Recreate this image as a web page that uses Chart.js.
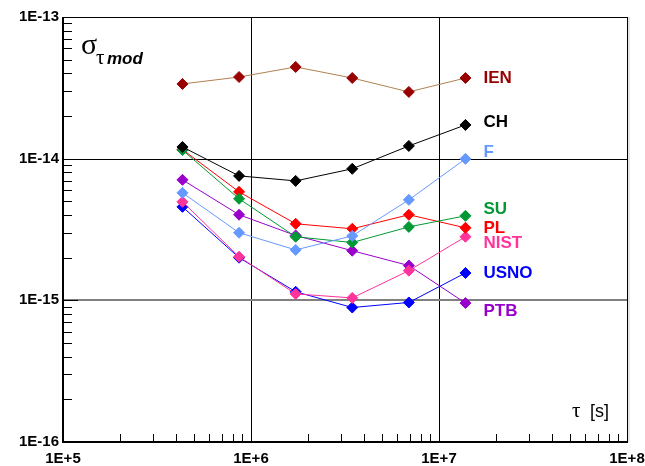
<!DOCTYPE html>
<html><head><meta charset="utf-8">
<script src="https://cdn.jsdelivr.net/npm/chart.js@4/dist/chart.umd.min.js"></script>
<style>html,body{margin:0;padding:0;background:#fff}#wrap{width:645px;height:466px}</style>
</head><body><div id="wrap"><canvas id="c" width="645" height="466"></canvas></div>
<script>
const tau = [432000, 864000, 1728000, 3456000, 6912000, 13824000];
const IEN  = [3.37e-14, 3.77e-14, 4.44e-14, 3.71e-14, 2.96e-14, 3.71e-14];
const CH   = [1.21e-14, 7.56e-15, 6.97e-15, 8.48e-15, 1.23e-14, 1.73e-14];
const F    = [5.74e-15, 3.00e-15, 2.27e-15, 2.85e-15, 5.12e-15, 9.97e-15];
const SU   = [1.15e-14, 5.21e-15, 2.81e-15, 2.56e-15, 3.30e-15, 3.95e-15];
const PL   = [1.16e-14, 5.83e-15, 3.47e-15, 3.20e-15, 4.02e-15, 3.25e-15];
const NIST = [4.96e-15, 2.03e-15, 1.11e-15, 1.04e-15, 1.62e-15, 2.81e-15];
const USNO = [4.57e-15, 2.00e-15, 1.15e-15, 8.90e-16, 9.66e-16, 1.56e-15];
const PTB  = [7.09e-15, 4.02e-15, 2.87e-15, 2.24e-15, 1.76e-15, 9.57e-16];
const xTickValues = [1e5, 1e6, 1e7, 1e8];
const xTickLabels = ['1E+5','1E+6','1E+7','1E+8'];
const yTickValues = [1e-16, 1e-15, 1e-14, 1e-13];
const yTickLabels = ['1E-16','1E-15','1E-14','1E-13'];

const series = [
  {name:'IEN', data:IEN, line:'#b08050', mark:'#990000', text:'#990000', dy:0},
  {name:'CH', data:CH, line:'#000000', mark:'#000000', text:'#000000', dy:-3},
  {name:'F', data:F, line:'#6699ff', mark:'#6699ff', text:'#6699ff', dy:-7},
  {name:'SU', data:SU, line:'#009933', mark:'#009933', text:'#009933', dy:-7},
  {name:'PL', data:PL, line:'#ff0000', mark:'#ff0000', text:'#ff0000', dy:0},
  {name:'NIST', data:NIST, line:'#ff3399', mark:'#ff3399', text:'#ff3399', dy:7},
  {name:'USNO', data:USNO, line:'#0000ff', mark:'#0000ff', text:'#0000ff', dy:0},
  {name:'PTB', data:PTB, line:'#9900cc', mark:'#9900cc', text:'#9900cc', dy:8}
];

const datasets = series.map(s => ({
  label: s.name,
  data: tau.map((t,i)=>({x:t,y:s.data[i]})),
  showLine: true,
  borderColor: s.line,
  borderWidth: 1,
  pointStyle: 'rectRot',
  pointRadius: 5.5,
  pointHoverRadius: 5.5,
  pointBackgroundColor: s.mark,
  pointBorderColor: s.mark,
  pointBorderWidth: 1,
  tension: 0
}));

const overlay = {
  id:'overlay',
  beforeDatasetsDraw(chart){
    const ctx=chart.ctx, xa=chart.scales.x, ya=chart.scales.y, a=chart.chartArea;
    ctx.save();
    [1e6,1e7].forEach(v=>{
      const px=Math.round(xa.getPixelForValue(v))+0.5;
      ctx.strokeStyle='#000'; ctx.lineWidth=1;
      ctx.beginPath(); ctx.moveTo(px,a.top); ctx.lineTo(px,a.bottom); ctx.stroke();
    });
    let py=Math.round(ya.getPixelForValue(1e-14))+0.5;
    ctx.strokeStyle='#000'; ctx.lineWidth=1;
    ctx.beginPath(); ctx.moveTo(a.left,py); ctx.lineTo(a.right,py); ctx.stroke();
    py=Math.round(ya.getPixelForValue(1e-15));
    ctx.strokeStyle='#808080'; ctx.lineWidth=2;
    ctx.beginPath(); ctx.moveTo(a.left,py); ctx.lineTo(a.right,py); ctx.stroke();
    ctx.strokeStyle='#000'; ctx.lineWidth=1;
    for(let e=-16;e<-13;e++){
      for(let m=1;m<10;m++){
        const v=m*Math.pow(10,e);
        const p=Math.round(ya.getPixelForValue(v))+0.5;
        const len = m===1?15:9;
        ctx.beginPath(); ctx.moveTo(a.left,p); ctx.lineTo(a.left+len,p); ctx.stroke();
      }
    }
    for(let e=5;e<8;e++){
      for(let m=1;m<10;m++){
        const v=m*Math.pow(10,e);
        const p=Math.round(xa.getPixelForValue(v))+0.5;
        const len = m===1?15:8;
        ctx.beginPath(); ctx.moveTo(p,a.bottom); ctx.lineTo(p,a.bottom-len); ctx.stroke();
      }
    }
    ctx.strokeStyle='#000'; ctx.lineWidth=1;
    ctx.strokeRect(a.left+0.5,a.top+0.5,a.right-a.left,a.bottom-a.top);
    ctx.lineWidth=2;
    ctx.beginPath(); ctx.moveTo(a.left,a.top); ctx.lineTo(a.left,a.bottom); ctx.lineTo(a.right,a.bottom); ctx.stroke();
    ctx.fillStyle='#e6e6e6'; ctx.fillRect(a.right+1,a.top,2,a.bottom-a.top);
    ctx.restore();
  },
  afterDatasetsDraw(chart){
    const ctx=chart.ctx, xa=chart.scales.x, ya=chart.scales.y, a=chart.chartArea;
    ctx.save();
    // axis tick labels
    ctx.fillStyle='#000';
    ctx.font='bold 15px "Liberation Sans", Arial, sans-serif';
    ctx.textAlign='center'; ctx.textBaseline='middle';
    xTickValues.forEach((v,i)=>{
      ctx.fillText(xTickLabels[i], xa.getPixelForValue(v), a.bottom+17);
    });
    ctx.textAlign='right';
    yTickValues.forEach((v,i)=>{
      ctx.fillText(yTickLabels[i], a.left-4, ya.getPixelForValue(v));
    });
    // series labels
    ctx.font='bold 17px "Liberation Sans", Arial, sans-serif';
    ctx.textBaseline='middle'; ctx.textAlign='left';
    series.forEach(s=>{
      const n=s.data.length-1;
      const px=xa.getPixelForValue(tau[n])+18;
      const py=ya.getPixelForValue(s.data[n])+s.dy;
      ctx.fillStyle=s.text;
      ctx.fillText(s.name,px,py);
    });
    ctx.fillStyle='#000';
    ctx.textBaseline='alphabetic';
    ctx.font='30px "Liberation Serif", "Times New Roman", serif';
    ctx.fillText('σ',81,54);
    ctx.font='21px "Liberation Serif", serif';
    ctx.fillText('τ',96,64);
    ctx.font='italic bold 17px "Liberation Sans", Arial, sans-serif';
    ctx.fillText('mod',107,64);
    ctx.font='21px "Liberation Serif", serif';
    ctx.fillText('τ',572,417);
    ctx.font='18px "Liberation Sans", Arial, sans-serif';
    ctx.fillText('[s]',590,417);
    ctx.restore();
  }
};

new Chart(document.getElementById('c'),{
  type:'scatter',
  data:{datasets},
  options:{
    responsive:false, animation:false, devicePixelRatio:1,
    layout:{padding:{left:63,right:18,top:17,bottom:24}},
    plugins:{legend:{display:false},tooltip:{enabled:false}},
    scales:{
      x:{type:'logarithmic',min:1e5,max:1e8,display:false},
      y:{type:'logarithmic',min:1e-16,max:1e-13,display:false}
    }
  },
  plugins:[overlay]
});
</script></body></html>
